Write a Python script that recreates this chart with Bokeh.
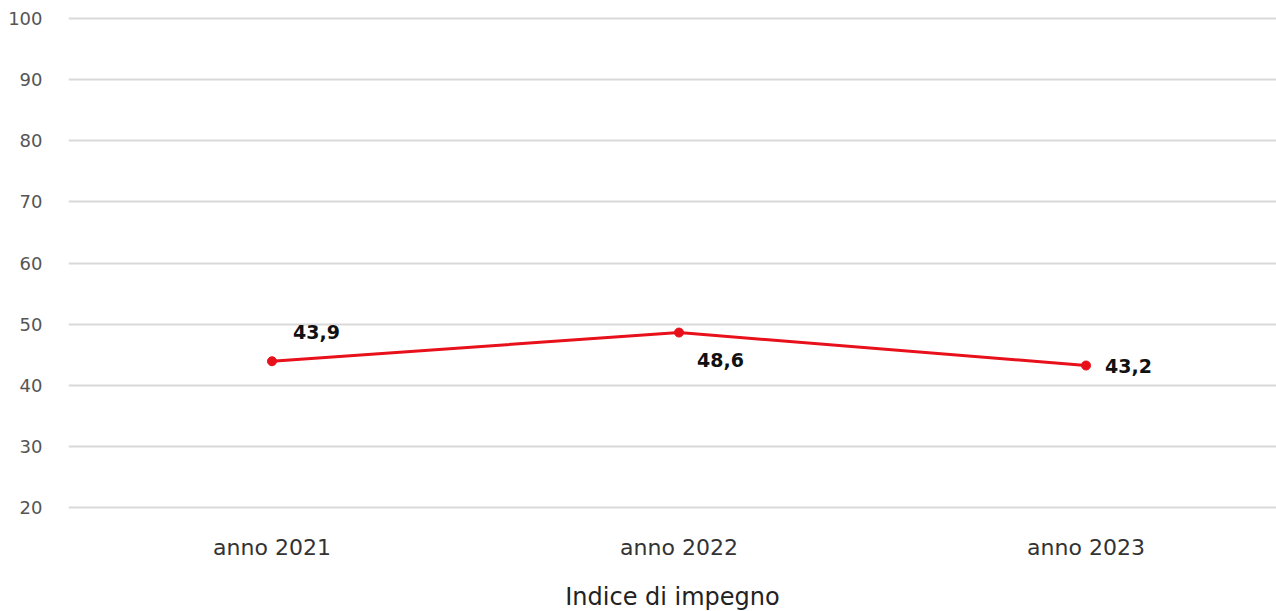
from bokeh.plotting import figure
from bokeh.models import Range1d, ColumnDataSource, FixedTicker
from bokeh.core.properties import value
from bokeh.embed import file_html
from bokeh.resources import INLINE

categories = ["anno 2021", "anno 2022", "anno 2023"]
values = [43.9, 48.6, 43.2]
y_ticks = [20, 30, 40, 50, 60, 70, 80, 90, 100]
x_title = "Indice di impegno"

xs = list(range(len(categories)))
labels = [f"{v:.1f}".replace(".", ",") for v in values]
lab_dx = [21, 18, 19]
lab_dy = [-29, 27, 0]

src = ColumnDataSource(dict(x=xs, y=values, lab=labels, dx=lab_dx, dy=lab_dy))

p = figure(frame_width=1208, frame_height=493, output_backend="svg", toolbar_location=None,
           x_range=Range1d(-0.5, 2.468), y_range=Range1d(19.6, 100.4),
           min_border_left=68, min_border_right=0, min_border_top=16, min_border_bottom=0)
p.outline_line_color = None
p.background_fill_color = "white"
p.border_fill_color = "white"

p.xgrid.grid_line_color = None
p.ygrid.grid_line_color = "#d9d9d9"
p.ygrid.grid_line_width = 2
p.ygrid.ticker = FixedTicker(ticks=y_ticks)

p.yaxis.ticker = FixedTicker(ticks=y_ticks)
p.yaxis.axis_line_color = None
p.yaxis.major_tick_line_color = None
p.yaxis.minor_tick_line_color = None
p.yaxis.major_label_standoff = 20
p.yaxis.major_label_text_font = "DejaVu Sans"
p.yaxis.major_label_text_font_size = "18px"
p.yaxis.major_label_text_color = "#555555"

p.xaxis.ticker = FixedTicker(ticks=xs)
p.xaxis.major_label_overrides = {i: c for i, c in enumerate(categories)}
p.xaxis.axis_line_color = None
p.xaxis.major_tick_line_color = None
p.xaxis.minor_tick_line_color = None
p.xaxis.major_label_standoff = 19
p.xaxis.major_label_text_font = "DejaVu Sans"
p.xaxis.major_label_text_font_size = "22px"
p.xaxis.major_label_text_color = "#333333"
p.xaxis.axis_label = x_title
p.xaxis.axis_label_standoff = 20
p.xaxis.axis_label_text_font = "DejaVu Sans"
p.xaxis.axis_label_text_font_style = "normal"
p.xaxis.axis_label_text_font_size = "24px"
p.xaxis.axis_label_text_color = "#222222"

p.line("x", "y", source=src, line_color="#e8101a", line_width=3)
p.scatter("x", "y", source=src, size=9, fill_color="#e8101a", line_color="#e8101a")
p.text("x", "y", text="lab", source=src, x_offset="dx", y_offset="dy",
       text_baseline="middle", text_align="left",
       text_font=value("DejaVu Sans"), text_font_style="bold",
       text_font_size="19px", text_color="#111111")

open("out.html", "w").write(file_html(p, INLINE))
